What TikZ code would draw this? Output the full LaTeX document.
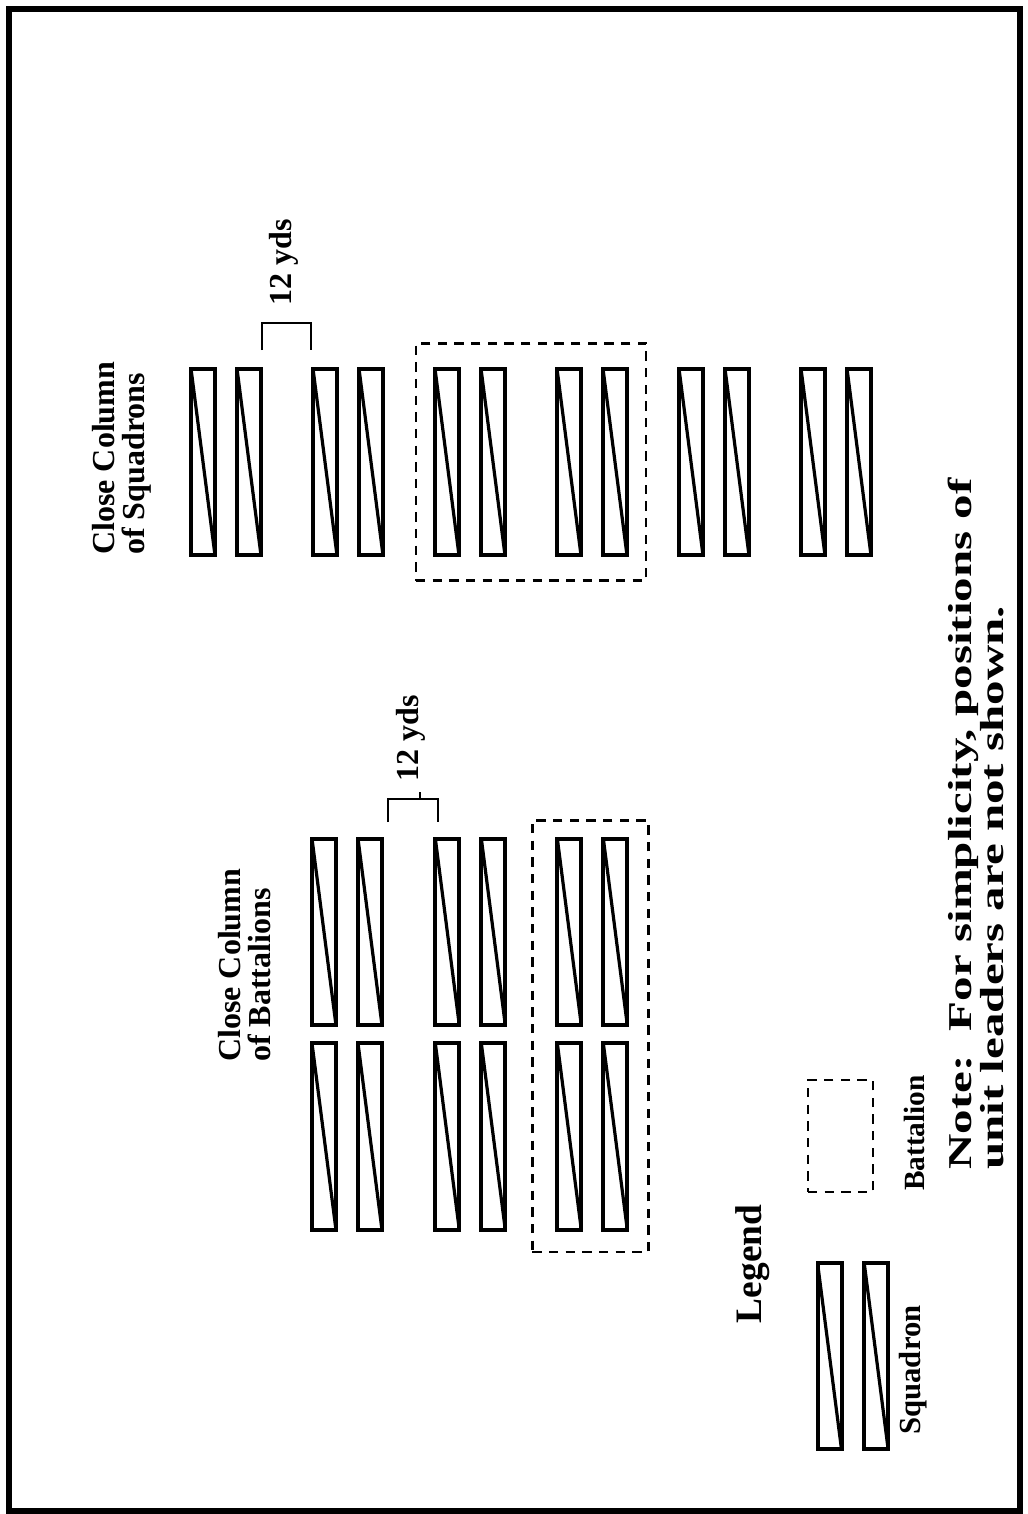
\documentclass[tikz,border=0pt]{standalone}
\usepackage{fontspec}
\setmainfont{Liberation Serif}
\newfontfamily\notefont[FakeStretch=1.47]{Liberation Serif}
\usetikzlibrary{positioning,fit}

\begin{document}
\begin{tikzpicture}[
    x=0.75pt, y=-0.75pt,
    sqd/.style={draw, line width=3pt, minimum width=18pt, minimum height=140pt, inner sep=0pt,
                path picture={\draw[line width=2.4pt] (path picture bounding box.north west)
                              -- (path picture bounding box.south east);}},
    bat/.style={draw, line width=2pt, dash pattern=on 7pt off 5.5pt, inner sep=0pt},
    brk/.style={line width=2.2pt},
    lbl/.style={rotate=90, inner sep=0pt, font=\fontsize{24}{22.5}\selectfont\bfseries}
]
    \useasboundingbox (0,0) rectangle (1028,1514);
    \draw[line width=4.5pt] (9,9) rectangle (1020,1511);

    % close column of squadrons
    \node[sqd] (q1) at (203,462) {};
    \node[sqd, right=13.5pt of q1] (q2) {};
    \node[sqd, right=36pt of q2] (q3) {};
    \node[sqd, right=13.5pt of q3] (q4) {};
    \node[sqd, right=36pt of q4] (q5) {};
    \node[sqd, right=13.5pt of q5] (q6) {};
    \node[sqd, right=36pt of q6] (q7) {};
    \node[sqd, right=13.5pt of q7] (q8) {};
    \node[sqd, right=36pt of q8] (q9) {};
    \node[sqd, right=13.5pt of q9] (q10) {};
    \node[sqd, right=36pt of q10] (q11) {};
    \node[sqd, right=13.5pt of q11] (q12) {};
    \node[bat, fit=(q5)(q8), inner xsep=12.75pt, inner ysep=17.6pt] (sqbat) {};

    % close column of battalions
    \node[sqd] (b1) at (324,932) {};
    \node[sqd, right=13.5pt of b1] (b2) {};
    \node[sqd, right=37pt of b2] (b3) {};
    \node[sqd, right=13.5pt of b3] (b4) {};
    \node[sqd, right=36pt of b4] (b5) {};
    \node[sqd, right=13.5pt of b5] (b6) {};
    \node[sqd, below=10.5pt of b1] (c1) {};
    \node[sqd, below=10.5pt of b2] (c2) {};
    \node[sqd, below=10.5pt of b3] (c3) {};
    \node[sqd, below=10.5pt of b4] (c4) {};
    \node[sqd, below=10.5pt of b5] (c5) {};
    \node[sqd, below=10.5pt of b6] (c6) {};
    \node[bat, fit=(b5)(c6), inner xsep=15.75pt, inner ysep=13.5pt, xshift=-1.5pt, yshift=-1.5pt] (btbat) {};

    % 12 yds brackets
    \draw[brk] (262,350) |- (311,323) -- (311,350);
    \draw[brk] (388,822) |- (438,799) -- (438,822);
    \draw[brk] (420,799) -- (420,792);

    % titles
    \node[lbl, anchor=north west, align=left] (sqtitle) at (92,555) {Close Column\\of Squadrons};
    \node[lbl, anchor=north west, align=left] (battitle) at (218,1062) {Close Column\\of Battalions};
    \node[lbl] (yds1) at (284,262) {12 yds};
    \node[lbl] (yds2) at (411,738) {12 yds};

    % legend
    \node[lbl, font=\fontsize{28}{28}\selectfont\bfseries] (legend) at (753,1264) {Legend};
    \node[sqd] (l1) at (829.5,1356) {};
    \node[sqd, right=14pt of l1] (l2) {};
    \node[bat, minimum width=48.75pt, minimum height=84pt] (lbat) at (840.5,1136) {};
    \node[lbl, font=\fontsize{23}{23}\selectfont\bfseries] (sqlbl) at (913,1370) {Squadron};
    \node[lbl, font=\fontsize{22}{22}\selectfont\bfseries] (batlbl) at (914,1133) {Battalion};

    % note
    \node[lbl, anchor=north west, align=left, font=\notefont\fontsize{25}{22}\selectfont\bfseries] (note)
        at (948,1170) {Note:\ \ For simplicity, positions of\\unit leaders are not shown.};
\end{tikzpicture}
\end{document}
